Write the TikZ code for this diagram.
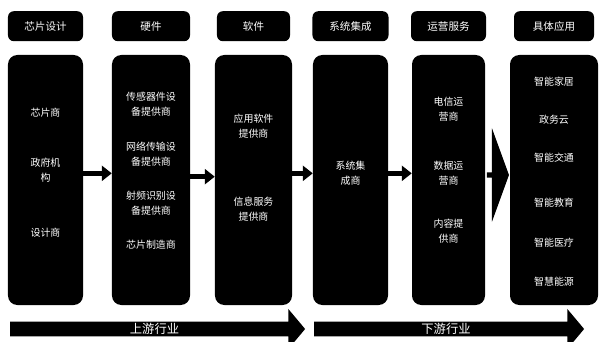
\documentclass[tikz,border=0pt]{standalone}
\usepackage{fontspec}
\newfontfamily\cjk{Noto Sans CJK SC}
\usetikzlibrary{arrows.meta,positioning,shapes.arrows}
\definecolor{chainblack}{RGB}{0,0,0}
\tikzset{
  chain column/.style={
    rectangle, rounded corners=8pt, fill=chainblack,
    minimum height=7.5cm, inner sep=0pt
  },
  chain head/.style={
    rectangle, rounded corners=5pt, fill=chainblack, text=white,
    minimum height=0.9cm, inner sep=0pt, font=\cjk\fontsize{9}{10}\selectfont
  },
  chain item/.style={
    text=white, align=center, inner sep=1pt,
    font=\cjk\fontsize{8.5}{12.5}\selectfont
  },
  chain arrow/.style={-{Triangle[length=3mm,width=4.5mm]}, line width=1.5mm, chainblack},
  stream arrow/.style={
    single arrow, fill=chainblack, text=white, inner sep=0pt,
    minimum width=1.2cm, single arrow head extend=0.3cm,
    single arrow tip angle=100, font=\cjk\fontsize{10.5}{12}\selectfont
  }
}
\begin{document}
\begin{tikzpicture}[x=0.03cm,y=-0.03cm,node distance=0.4cm]
  \useasboundingbox (0,0) rectangle (603,342);
  % columns
  \node[chain column, minimum width=2.25cm] (design) at (45.5,180) {};
  \node[chain column, minimum width=2.34cm] (hardware) at (151,180) {};
  \node[chain column, minimum width=2.31cm] (software) at (253.5,180) {};
  \node[chain column, minimum width=2.25cm] (integration) at (350.5,180) {};
  \node[chain column, minimum width=2.19cm] (operation) at (448.5,180) {};
  \node[chain column, minimum width=2.64cm] (application) at (554,180) {};
  % headers
  \node[chain head, minimum width=2.25cm, above=of design] (designhead) {芯片设计};
  \node[chain head, minimum width=2.34cm, above=of hardware] (hardwarehead) {硬件};
  \node[chain head, minimum width=2.19cm, above=of software] (softwarehead) {软件};
  \node[chain head, minimum width=2.28cm, above=of integration] (integrationhead) {系统集成};
  \node[chain head, minimum width=2.25cm, above=of operation] (operationhead) {运营服务};
  \node[chain head, minimum width=2.4cm, above=of application] (applicationhead) {具体应用};
  % items
  \node[chain item] (chipmaker) at (45.5,113) {芯片商};
  \node[chain item] (government) at (45.5,170) {政府机\\构};
  \node[chain item] (designer) at (45.5,233) {设计商};
  \node[chain item] (sensor) at (151,104) {传感器件设\\备提供商};
  \node[chain item] (network) at (151,154) {网络传输设\\备提供商};
  \node[chain item] (rfid) at (151,203) {射频识别设\\备提供商};
  \node[chain item] (chipfab) at (151,245) {芯片制造商};
  \node[chain item] (appsoft) at (253.5,126) {应用软件\\提供商};
  \node[chain item] (infoserv) at (253.5,209) {信息服务\\提供商};
  \node[chain item] (integrator) at (350.5,173) {系统集\\成商};
  \node[chain item] (telecom) at (448.5,109) {电信运\\营商};
  \node[chain item] (dataop) at (448.5,173) {数据运\\营商};
  \node[chain item] (content) at (448.5,231) {内容提\\供商};
  \node[chain item] (home) at (554,82) {智能家居};
  \node[chain item] (govcloud) at (554,120) {政务云};
  \node[chain item] (traffic) at (554,158) {智能交通};
  \node[chain item] (education) at (554,203) {智能教育};
  \node[chain item] (medical) at (554,243) {智能医疗};
  \node[chain item] (energy) at (554,282) {智慧能源};
  % flow between columns
  \draw[chain arrow] ([yshift=0.2cm]design.east) -- ([yshift=0.2cm]hardware.west);
  \draw[chain arrow] ([yshift=0.1cm]hardware.east) -- ([yshift=0.1cm]software.west);
  \draw[chain arrow] ([yshift=0.2cm]software.east) -- ([yshift=0.2cm]integration.west);
  \draw[chain arrow] ([yshift=0.2cm]integration.east) -- ([yshift=0.2cm]operation.west);
  \node[single arrow, fill=chainblack, inner sep=0pt, minimum width=2.8cm,
    minimum height=0.66cm, single arrow head extend=0.12cm,
    single arrow tip angle=140] (bigflow) at (497.5,175) {};
  % streams
  \node[stream arrow, minimum height=8.85cm] (upstream) at (154.5,329) {上游行业};
  \node[stream arrow, minimum height=8.1cm] (downstream) at (446,329) {下游行业};
\end{tikzpicture}
\end{document}
